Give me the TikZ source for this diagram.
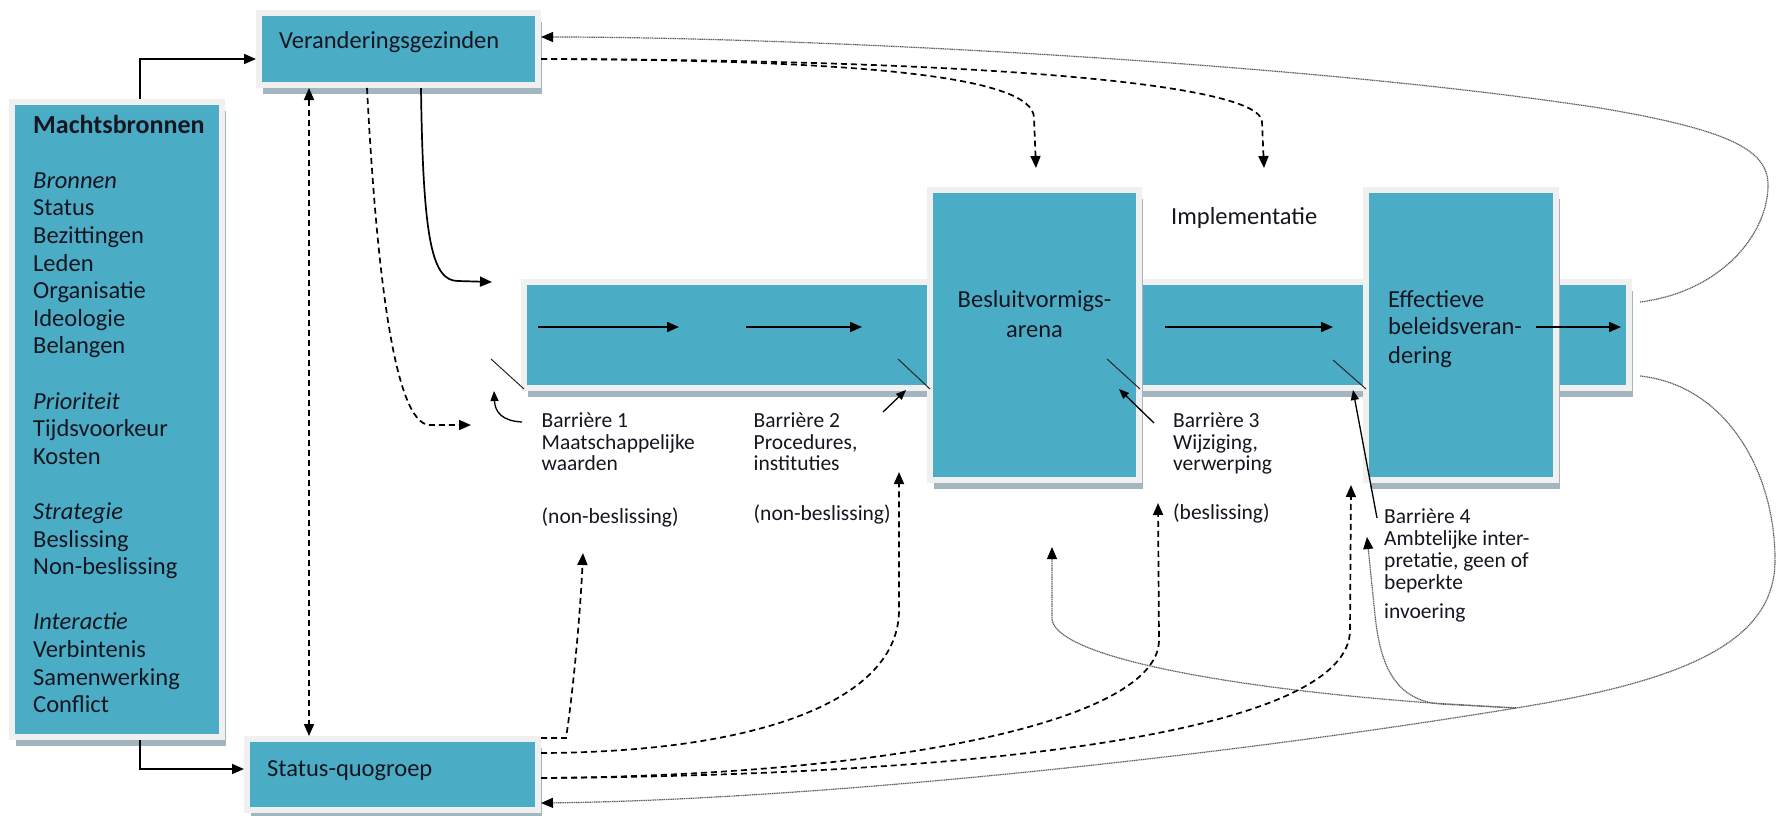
\documentclass[tikz,border=0pt]{standalone}
\usepackage{fontspec}
\setmainfont{Carlito}
\usetikzlibrary{arrows.meta,shadows}
\definecolor{teal1}{HTML}{4BACC6}
\definecolor{rim}{HTML}{F0F0F0}
\definecolor{shade}{HTML}{A3B6BF}
\definecolor{ink}{HTML}{161620}
\tikzset{
  box/.style={draw=rim, line width=6pt, fill=teal1, inner sep=0pt,
    drop shadow={shadow xshift=4pt, shadow yshift=-9pt, fill=shade, opacity=1}},
  main/.style={font=\fontsize{24.5}{27.6}\selectfont, text=ink, inner sep=0pt, anchor=base west},
  small/.style={font=\fontsize{21.5}{22}\selectfont, text=ink, inner sep=0pt, anchor=base west},
  arr/.style={->, line width=1.7pt, black},
  darr/.style={->, line width=1.7pt, black, dash pattern=on 6pt off 4pt},
  garr/.style={-{Triangle[length=12pt,width=10pt,color=black]}, line width=1.2pt, black!62, dash pattern=on 1.2pt off 0.6pt},
  sarr/.style={-{Triangle[length=10pt,width=8pt]}, line width=1.3pt, black},
  bline/.style={line width=1pt, black!85}
}
\begin{document}
\begin{tikzpicture}[x=1pt,y=-1pt,>={Triangle[length=12pt,width=10pt]}]
\fill[white] (0,0) rectangle (1778,815);
\useasboundingbox (0,0) rectangle (1778,815);

% boxes
\node[box, minimum width=1105pt, minimum height=106pt] (band) at (1076.5,335) {};
\node[box, minimum width=279pt, minimum height=72pt] (V) at (398.5,49) {};
\node[box, minimum width=210pt, minimum height=635pt] (M) at (117,419.5) {};
\node[box, minimum width=291pt, minimum height=71pt] (S) at (392.5,774.5) {};
\node[box, minimum width=209pt, minimum height=290pt] (D) at (1034.5,335) {};
\node[box, minimum width=190pt, minimum height=290pt] (E) at (1461,335) {};

% texts in boxes
\node[main] (vt) at (279,48) {Veranderingsgezinden};
\node[main] (st) at (267,776) {Status-quogroep};
\node[main, anchor=base] (dt1) at (1034.5,307) {Besluitvormigs-};
\node[main, anchor=base] (dt2) at (1034.5,337) {arena};
\node[main] (et1) at (1388,307) {Effectieve};
\node[main] (et2) at (1388,334) {beleidsveran-};
\node[main] (et3) at (1388,363) {dering};
\node[main] (imp) at (1171,224) {Implementatie};

\foreach \k/\txt in {0/{\fontsize{26}{27.6}\selectfont\textbf{Machtsbronnen}},2/{\textit{Bronnen}},3/Status,4/Bezittingen,5/Leden,6/Organisatie,7/Ideologie,8/Belangen,10/{\textit{Prioriteit}},11/Tijdsvoorkeur,12/Kosten,14/{\textit{Strategie}},15/Beslissing,16/Non-beslissing,18/{\textit{Interactie}},19/Verbintenis,20/Samenwerking,21/Conflict}
  \node[main] (mt\k) at (33,{133+27.6*\k}) {\txt};

% barrier texts
\node[small] (a1) at (541.5,427) {Barrière 1};
\node[small] (a2) at (541.5,449) {Maatschappelijke};
\node[small] (a3) at (541.5,470) {waarden};
\node[small] (a4) at (541.5,523) {(non-beslissing)};
\node[small] (b1) at (753.5,427) {Barrière 2};
\node[small] (b2) at (753.5,449) {Procedures,};
\node[small] (b3) at (753.5,470) {instituties};
\node[small] (b4) at (753.5,520) {(non-beslissing)};
\node[small] (c1) at (1173,427) {Barrière 3};
\node[small] (c2) at (1173,449) {Wijziging,};
\node[small] (c3) at (1173,470) {verwerping};
\node[small] (c4) at (1173,519) {(beslissing)};
\node[small] (d1) at (1384,523) {Barrière 4};
\node[small] (d2) at (1384,545) {Ambtelijke inter-};
\node[small] (d3) at (1384,567) {pretatie, geen of};
\node[small] (d4) at (1384,589) {beperkte};
\node[small] (d5) at (1384,618) {invoering};

% coordinates
\coordinate (mx) at (140,0);
\coordinate (dx) at (309,0);
\coordinate (v1) at (367,0);
\coordinate (v2) at (421,0);
\coordinate (t1) at (471,425);
\coordinate (t2) at (492,282);
\coordinate (t3) at (1036,168);
\coordinate (t4) at (1264,168);
\coordinate (r1) at (1640,302);
\coordinate (r2) at (1640,376);
\coordinate (j) at (1516,708);
\coordinate (t5) at (1367,537);
\coordinate (t6) at (1052,547);
\coordinate (t7) at (583,553);
\coordinate (t8) at (899,472);
\coordinate (t9) at (1158,503);
\coordinate (t10) at (1351,485);

% arrows inside band
\coordinate (p1) at (538,327); \coordinate (q1) at (679,327);
\coordinate (p2) at (746,327); \coordinate (q2) at (862,327);
\coordinate (p3) at (1165,327); \coordinate (q3) at (1333,327);
\coordinate (p4) at (1536,327); \coordinate (q4) at (1621,327);
\draw[arr] (p1) -- (q1);
\draw[arr] (p2) -- (q2);
\draw[arr] (p3) -- (q3);
\draw[arr] (p4) -- (q4);

% barrier marks
\coordinate (m1a) at (491,359); \coordinate (m1b) at (524,389);
\coordinate (m2a) at (898,359); \coordinate (m2b) at (930,389);
\coordinate (m3a) at (1107,359); \coordinate (m3b) at (1140,389);
\coordinate (m4a) at (1333,360); \coordinate (m4b) at (1366,389);
\draw[bline] (m1a) -- (m1b);
\draw[bline] (m2a) -- (m2b);
\draw[bline] (m3a) -- (m3b);
\draw[bline] (m4a) -- (m4b);

% barrier label arrows
\coordinate (l1a) at (522,422); \coordinate (l1b) at (494,391);
\coordinate (l2a) at (883,412); \coordinate (l2b) at (906,390);
\coordinate (l3a) at (1154,423); \coordinate (l3b) at (1119,389);
\coordinate (l4a) at (1377,518); \coordinate (l4b) at (1353,390);
\draw[sarr] (l1a) .. controls (502,421) and (495,412) .. (l1b);
\draw[sarr] (l2a) -- (l2b);
\draw[sarr] (l3a) -- (l3b);
\draw[sarr] (l4a) -- (l4b);

% Machtsbronnen connectors
\draw[arr] (M.north -| mx) |- ([yshift=-10pt]V.west);
\draw[arr] (M.south -| mx) |- ([yshift=5.5pt]S.west);
\draw[darr, <->] (V.south -| dx) -- (S.north -| dx);

% from Veranderingsgezinden
\draw[darr] (V.south -| v1) .. controls (376,260) and (393,425) .. (430,425) -- (t1);
\draw[arr] (V.south -| v2) .. controls (423,240) and (432,281) .. (458,281) -- (t2);
\draw[darr] ([yshift=-10pt]V.east) .. controls (850,60) and (1034,75) .. (1034,118) -- (t3);
\draw[darr] ([yshift=-10pt]V.east) .. controls (1000,60) and (1262,85) .. (1262,122) -- (t4);

% feedback curves
\draw[garr] (r1) .. controls (1720,292) and (1768,235) .. (1768,185) .. controls (1768,150) and (1730,130) .. (1600,108) .. controls (1300,62) and (800,37) .. ([yshift=12pt]V.east);
\draw[garr] (r2) .. controls (1725,385) and (1775,470) .. (1775,560) .. controls (1775,640) and (1690,680) .. (j) .. controls (1200,760) and (800,800) .. ([yshift=-28.5pt]S.east);
\draw[garr] (j) -- (1440,704) .. controls (1395,700) and (1380,665) .. (1375,615) -- (t5);
\draw[garr] (j) -- (1432,703) .. controls (1250,690) and (1060,660) .. (1052,620) -- (t6);

% from Status-quogroep
\draw[darr] ([yshift=-2pt]S.north east) -- (566,738) .. controls (572,700) and (580,620) .. (t7);
\draw[darr] ([yshift=21.5pt]S.east) .. controls (760,752) and (899,700) .. (899,610) -- (t8);
\draw[darr] ([yshift=-3.5pt]S.east) .. controls (900,775) and (1159,720) .. (1159,640) -- (t9);
\draw[darr] ([yshift=-3.5pt]S.east) .. controls (1000,775) and (1350,730) .. (1350,630) -- (t10);
\end{tikzpicture}
\end{document}
